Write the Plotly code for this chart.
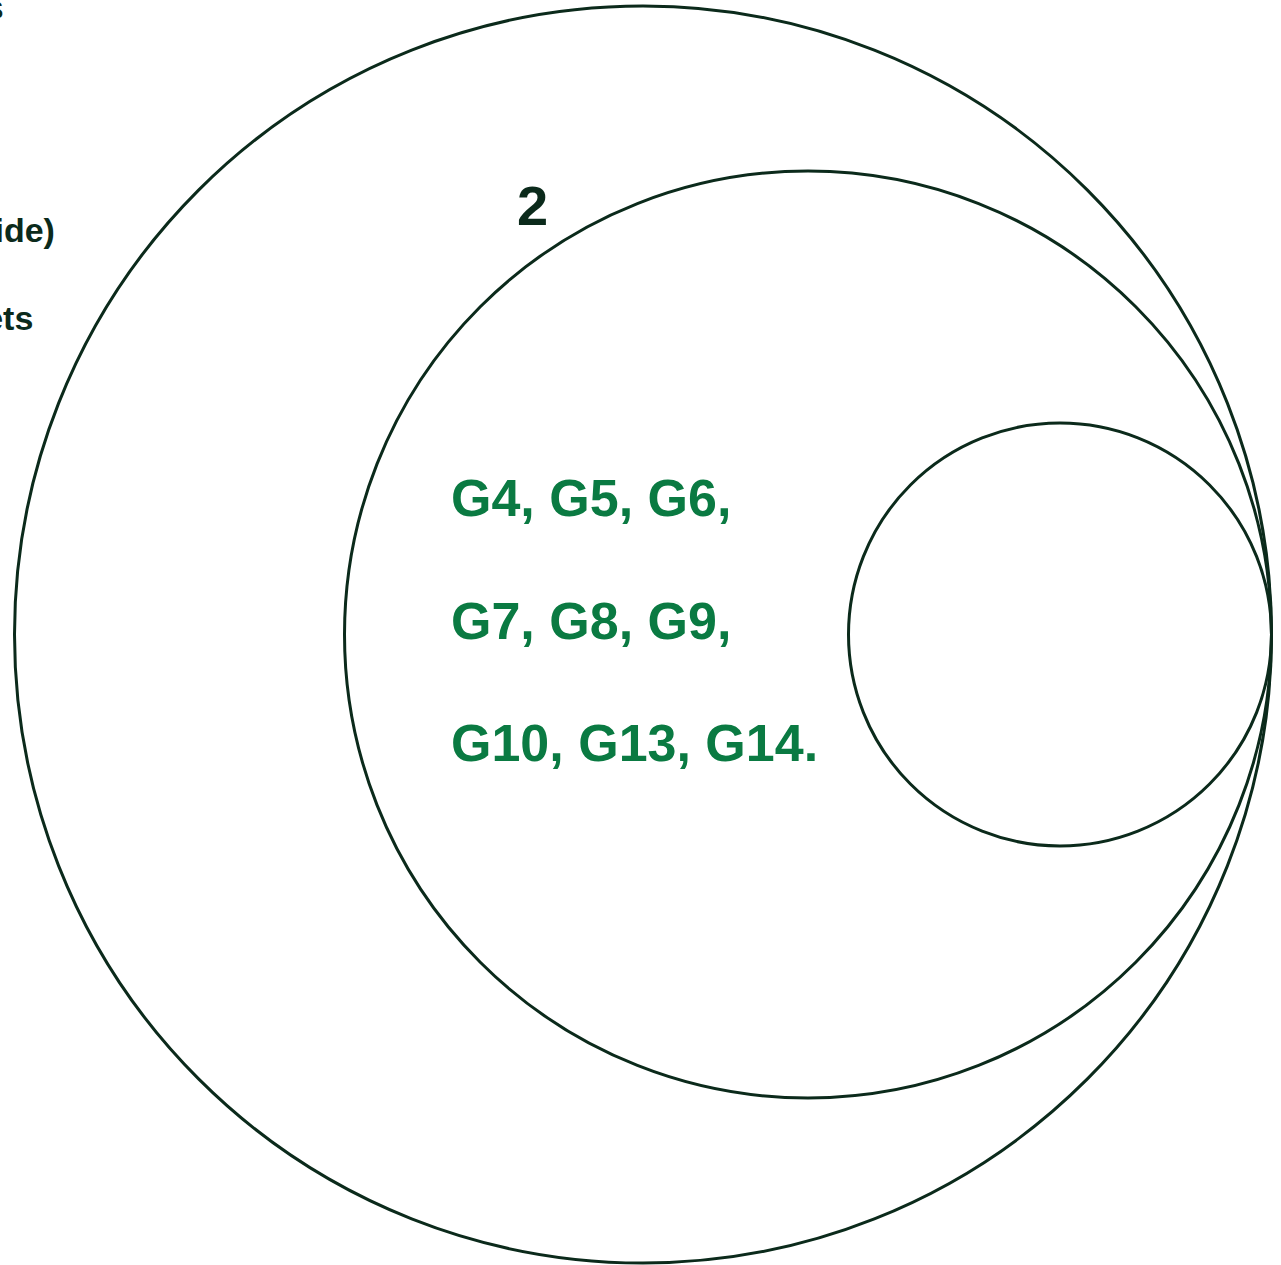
import plotly.graph_objects as go

W, H = 1281, 1265

# circles: centre x, centre y, radius (pixel-space data units)
circle_cx = [643, 808, 1060]
circle_cy = [634.5, 634.5, 634.5]
circle_r = [628.5, 463.5, 211.5]

# clipped labels at the left edge (right-aligned, mostly off page)
side_labels = ["Sustainable Development Goals", "(worldwide)", "Targets"]
side_label_x = [5, 56, 34]
side_label_baseline = [19, 242, 330]

group_label = "2"
group_label_pos = (516, 225)

green_lines = ["G4, G5, G6,", "G7, G8, G9,", "G10, G13, G14."]
green_x = 450
green_baseline = [517, 640, 762]

DARK = "#0b2a1b"
GREEN = "#0a7a42"
FONT = "Liberation Sans, Arial, Helvetica, sans-serif"

fig = go.Figure()
fig.add_trace(go.Scatter(x=[0, W], y=[0, H], mode="markers",
                         marker=dict(opacity=0), hoverinfo="skip", showlegend=False))

for cx, cy, r in zip(circle_cx, circle_cy, circle_r):
    fig.add_shape(type="circle", xref="x", yref="y",
                  x0=cx - r, x1=cx + r, y0=cy - r, y1=cy + r,
                  line=dict(color=DARK, width=3), fillcolor="rgba(0,0,0,0)")

side_size = 34
for t, x, b in zip(side_labels, side_label_x, side_label_baseline):
    fig.add_annotation(x=x, y=b - 0.35 * side_size, xref="x", yref="y", text=f"<b>{t}</b>",
                       showarrow=False, xanchor="right", yanchor="middle",
                       font=dict(family=FONT, size=side_size, color=DARK), borderpad=0)

g_size = 56
fig.add_annotation(x=group_label_pos[0], y=group_label_pos[1] - 0.35 * g_size, xref="x", yref="y",
                   text=f"<b>{group_label}</b>", showarrow=False, xanchor="left", yanchor="middle",
                   font=dict(family=FONT, size=g_size, color=DARK), borderpad=0)

t_size = 52
for t, b in zip(green_lines, green_baseline):
    fig.add_annotation(x=green_x, y=b - 0.36 * t_size, xref="x", yref="y", text=f"<b>{t}</b>",
                       showarrow=False, xanchor="left", yanchor="middle",
                       font=dict(family=FONT, size=t_size, color=GREEN), borderpad=0)

fig.update_xaxes(range=[0, W], visible=False, fixedrange=True)
fig.update_yaxes(range=[H, 0], visible=False, fixedrange=True)
fig.update_layout(width=W, height=H, margin=dict(l=0, r=0, t=0, b=0),
                  paper_bgcolor="white", plot_bgcolor="white", showlegend=False)

fig.write_html("out.html", config={"displayModeBar": False},
               post_script="document.body.style.margin='0';document.body.style.overflow='hidden';")
